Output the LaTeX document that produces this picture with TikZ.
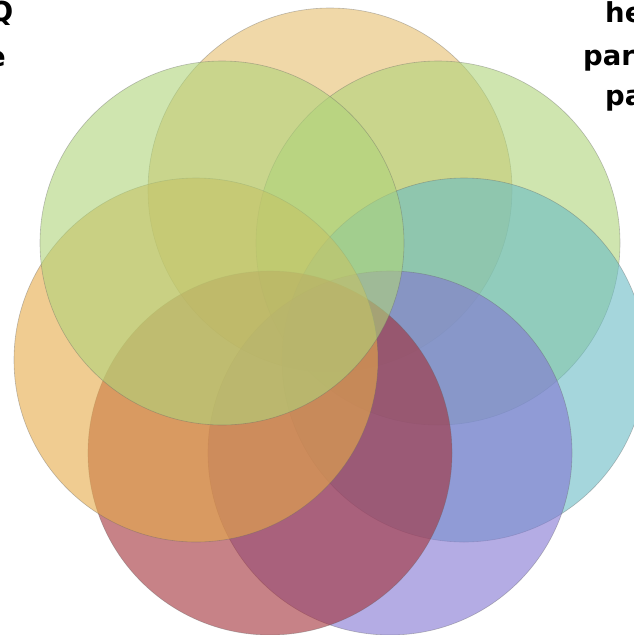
\documentclass[tikz,border=0pt]{standalone}
\usepackage{fontspec}
\setmainfont{DejaVu Sans}
\definecolor{ringBeige}{RGB}{230,190,110}
\definecolor{ringGreen}{RGB}{175,212,122}
\definecolor{ringTeal}{RGB}{105,188,197}
\definecolor{ringBlue}{RGB}{130,117,210}
\definecolor{ringRed}{RGB}{163,47,55}
\definecolor{ringOrange}{RGB}{230,170,72}
\begin{document}
\begin{tikzpicture}[
            x=1pt, y=-1pt,
            % alle sieben Kreise gleich gross und halbtransparent
            ring/.style={circle, minimum size=364pt, inner sep=0pt, fill opacity=0.6,
                draw=black!60, draw opacity=0.4, line width=0.6pt},
            % Beschriftungen, die am Bildrand abgeschnitten sind
            edgetext/.style={inner sep=0pt, text=black, font=\fontsize{27.5}{33}\selectfont\bfseries}
        ]
        \path[use as bounding box, fill=white] (0,0) rectangle (634,635);
        \clip (0,0) rectangle (634,635);
        % Kreise im Uhrzeigersinn, oben beginnend
        \node[ring, fill=ringBeige] (top) at (330,190) {};
        \node[ring, fill=ringGreen] (upright) at (438,243) {};
        \node[ring, fill=ringTeal] (right) at (464,360) {};
        \node[ring, fill=ringBlue] (lowright) at (390,453) {};
        \node[ring, fill=ringRed] (lowleft) at (270,453) {};
        \node[ring, fill=ringOrange] (left) at (196,360) {};
        \node[ring, fill=ringGreen] (upleft) at (222,243) {};
        % Textreste links und rechts oben
        \node[edgetext, anchor=base east] (txtq) at (13.5,21) {Q};
        \node[edgetext, anchor=base east] (txte) at (6,66) {e};
        \node[edgetext, anchor=base west] (txthe) at (605,22) {he};
        \node[edgetext, anchor=base west] (txtpar) at (583,65) {par};
        \node[edgetext, anchor=base west] (txtpa) at (605,105) {pa};
    \end{tikzpicture}
\end{document}
